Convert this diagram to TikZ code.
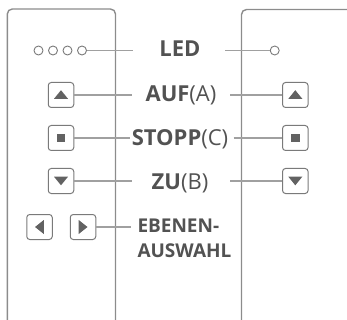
\documentclass[tikz,border=0pt]{standalone}
\usepackage{fontspec}
\setmainfont{Open Sans}
\definecolor{txt}{HTML}{525252}
\definecolor{ln}{HTML}{A0A0A0}
\definecolor{pan}{HTML}{8C8C8C}
\definecolor{btnc}{HTML}{7A7A7A}
\definecolor{sym}{HTML}{626262}
\begin{document}
\begin{tikzpicture}[x=1pt,y=-1pt,
  panel/.style={draw=pan,line width=1.4pt,rounded corners=5pt},
  button/.style={draw=btnc,line width=1pt,rounded corners=3pt,minimum width=25.5pt,minimum height=25pt,inner sep=0pt},
  led/.style={draw=btnc,line width=0.9pt,circle,minimum size=9pt,inner sep=0pt},
  conn/.style={draw=ln,line width=1.2pt},
  lab/.style={text=txt,font=\fontsize{22}{26}\selectfont,anchor=base,inner sep=0pt},
  labs/.style={text=txt,font=\fontsize{19}{23}\selectfont\bfseries,anchor=base west,inner sep=0pt}]
\useasboundingbox (0,0) rectangle (347,320);
% panels
\draw[panel] (7.3,321) -- (7.3,9) -- (115.5,9) -- (115.5,321);
\draw[panel] (241.5,321) -- (241.5,9.5) -- (350,9.5);
% LEDs
\node[led] (l1) at (38.5,50.5) {};
\node[led] (l2) at (53,50.5) {};
\node[led] (l3) at (67.5,50.5) {};
\node[led] (l4) at (82,50.5) {};
\node[led] (r0) at (274.7,50.5) {};
% buttons left
\node[button] (upL) at (61,95) {};
\node[button] (stL) at (61,138) {};
\node[button] (dnL) at (61,181) {};
\node[button] (lfL) at (39.5,227) {};
\node[button] (rtL) at (83,227) {};
% buttons right
\node[button] (upR) at (295.3,95) {};
\node[button] (stR) at (295.3,138) {};
\node[button] (dnR) at (295.3,181) {};
% symbols
\foreach \b in {upL,upR}{\fill[sym,shift={(\b.center)}] (-7,3.8) -- (7,3.8) -- (0,-4.8) -- cycle;}
\foreach \b in {stL,stR}{\fill[sym,shift={(\b.center)}] (-4.2,-4.2) rectangle (4.2,4.2);}
\foreach \b in {dnL,dnR}{\fill[sym,shift={(\b.center)}] (-7,-4.3) -- (7,-4.3) -- (0,4.3) -- cycle;}
\fill[sym,shift={(lfL.center)}] (4.3,-7) -- (4.3,7) -- (-4.5,0) -- cycle;
\fill[sym,shift={(rtL.center)}] (-4.3,-7) -- (-4.3,7) -- (4.5,0) -- cycle;
% labels
\node[lab] (tLED) at (180,56.5) {\bfseries LED};
\node[lab] (tAUF) at (181,102) {\textbf{AUF}(A)};
\node[lab] (tSTOP) at (180,146) {\textbf{STOPP}(C)};
\node[lab] (tZU) at (180,189) {\textbf{ZU}(B)};
\node[labs] (tEB1) at (137.3,232) {EBENEN-};
\node[labs] (tEB2) at (137.3,257) {AUSWAHL};
% connector end points
\coordinate (aLED) at (133,50.5);
\coordinate (bLED) at (225.3,50.5);
\coordinate (aAUF) at (132,95);
\coordinate (bAUF) at (230.3,95);
\coordinate (aSTOP) at (130,138);
\coordinate (bSTOP) at (233.7,138);
\coordinate (aZU) at (132,181);
\coordinate (bZU) at (230.3,181);
\coordinate (aEB) at (131,227);
% connectors
\draw[conn] (l4) -- (aLED);
\draw[conn] (bLED) -- (r0);
\draw[conn] (upL) -- (aAUF);
\draw[conn] (bAUF) -- (upR);
\draw[conn] (stL) -- (aSTOP);
\draw[conn] (bSTOP) -- (stR);
\draw[conn] (dnL) -- (aZU);
\draw[conn] (bZU) -- (dnR);
\draw[conn] (rtL) -- (aEB);
\end{tikzpicture}
\end{document}
